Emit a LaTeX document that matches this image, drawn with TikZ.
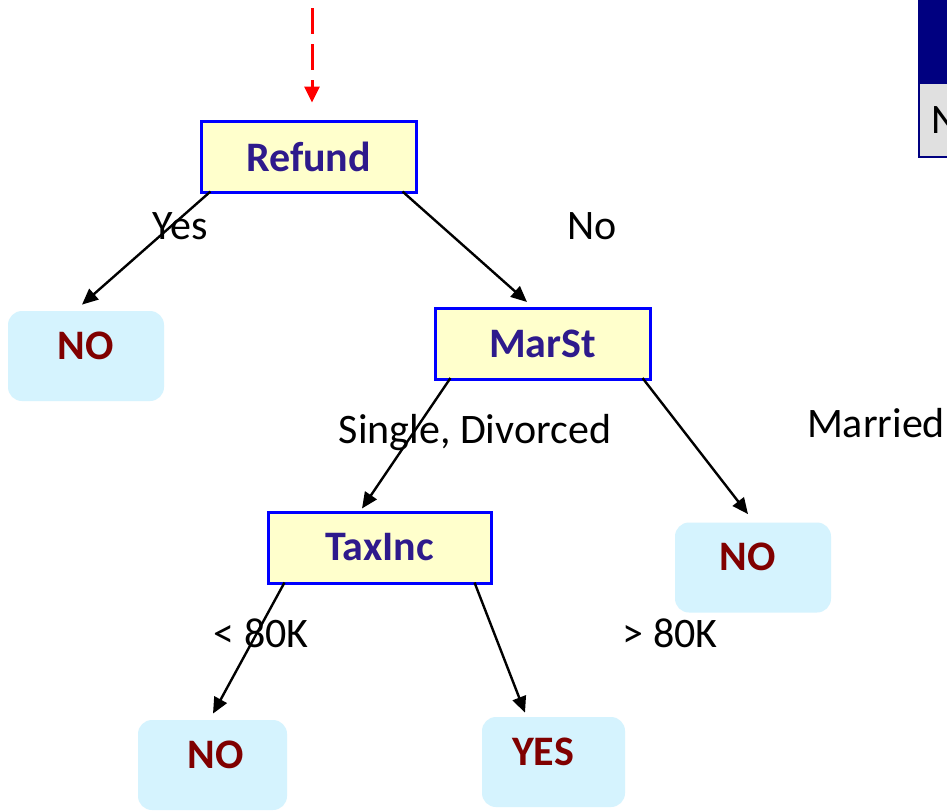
\documentclass[tikz,border=0pt]{standalone}
\usepackage{fontspec}
\setmainfont{Carlito}
\usetikzlibrary{arrows.meta,calc}
\definecolor{boxyellow}{RGB}{255,255,204}
\definecolor{boxblue}{RGB}{0,0,255}
\definecolor{inktext}{RGB}{46,26,140}
\definecolor{leaffill}{RGB}{213,243,254}
\definecolor{leaftext}{RGB}{128,0,0}
\definecolor{navy}{RGB}{0,0,128}
\definecolor{cellgray}{RGB}{224,224,224}
\tikzset{
  testbox/.style={draw=boxblue, line width=1.5pt, fill=boxyellow, minimum width=#1, minimum height=35.5pt, inner sep=0pt,
    font=\fontsize{21}{24}\selectfont\bfseries, text=inktext},
  leaf/.style={fill=leaffill, rounded corners=7pt, minimum width=#1, minimum height=45pt, inner sep=0pt,
    text height=13pt, text depth=10pt, font=\fontsize{21}{24}\selectfont\bfseries, text=leaftext},
  lbl/.style={anchor=base, inner sep=0pt, font=\fontsize{21}{25}\selectfont},
  edge/.style={line width=1.2pt, -{Triangle[length=8pt,width=7pt]}},
  redarrow/.style={red, line width=1.5pt, dash pattern=on 13pt off 5pt, -{Triangle[length=8pt,width=7.5pt]}},
}
\begin{document}
\begin{tikzpicture}[x=0.5pt,y=-0.5pt]
\clip (0,0) rectangle (947,810);
\fill[white] (0,0) rectangle (947,810);
% partial table at top right
\fill[navy] (918,0) rectangle (960,82);
\node (cell) [fill=cellgray, draw=navy, line width=1pt, anchor=north west, minimum height=37pt,
  inner xsep=6pt, inner ysep=0pt, text width=30pt, align=left, font=\fontsize{21}{25}\selectfont] at (918,82) {N};
% nodes
\node (refund) [testbox=107.5pt] at (308.5,156.5) {Refund};
\node (no1) [leaf=78pt] at (86,356) {NO};
\node (marst) [testbox=107.5pt] at (542.5,344) {MarSt};
\node (taxinc) [testbox=111.5pt] at (379.5,547.5) {TaxInc};
\node (no2) [leaf=78pt] at (753,567.5) {NO\hspace*{5pt}};
\node (no3) [leaf=74.5pt] at (212.5,765) {\hspace*{3.5pt}NO};
\node (yes) [leaf=71.5pt] at (553.5,762) {YES\hspace*{10.5pt}};
% incoming red arrow
\coordinate (start) at (312,8);
\draw[redarrow] (start) -- ([xshift=1.75pt,yshift=8.5pt]refund.north);
% edges
\draw[edge] ([xshift=5.5pt,yshift=1pt]refund.south west) -- ([xshift=-2pt,yshift=3pt]no1.north);
\draw[edge] ([xshift=-7.5pt,yshift=1pt]refund.south east) -- ([xshift=-7.75pt,yshift=2.5pt]marst.north);
\draw[edge] ([xshift=8.5pt,yshift=1.5pt]marst.south west) -- ([xshift=-8.75pt,yshift=1pt]taxinc.north);
\draw[edge] ([xshift=-4.5pt,yshift=1.5pt]marst.south east) -- ([xshift=-2.5pt,yshift=4pt]no2.north);
\draw[edge] ([xshift=9pt,yshift=1pt]taxinc.south west) -- ([xshift=0.25pt,yshift=3pt]no3.north);
\draw[edge] ([xshift=-9pt,yshift=1pt]taxinc.south east) -- ([xshift=-14.25pt,yshift=2pt]yes.north);
% labels
\node (lyes) [lbl] at (180,239) {Yes};
\node (lno) [lbl] at (592,239) {No};
\node (lsd) [lbl] at (475,443) {Single, Divorced};
\node (lmar) [lbl] at (876,437) {Married};
\node (llt) [lbl] at (261,647) {< 80K};
\node (lgt) [lbl] at (670,647) {> 80K};
\end{tikzpicture}
\end{document}
